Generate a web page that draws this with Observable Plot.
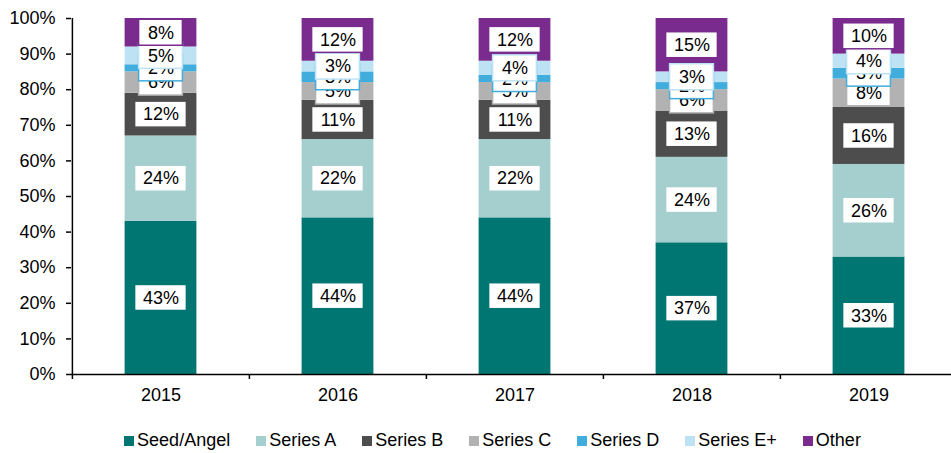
<!DOCTYPE html>
<html>
<head>
<meta charset="utf-8">
<script src="https://cdn.jsdelivr.net/npm/d3@7"></script>
<script src="https://cdn.jsdelivr.net/npm/@observablehq/plot@0.6"></script>
<style>
  html, body { margin: 0; padding: 0; background: #fff; overflow: hidden; }
  body { width: 951px; height: 453px; font-family: Arial, "Liberation Sans", sans-serif; }
  #legend { display: flex; justify-content: center; align-items: center; margin-top: 20px; margin-left: 34px; font-size: 18px; color: #000; }
  #legend .item { display: flex; align-items: center; margin: 0 13px; }
  #legend .sw { width: 10px; height: 10px; margin-right: 3px; }
</style>
</head>
<body>
<div id="chart"></div>
<div id="legend"></div>
<script>
const years = ["2015", "2016", "2017", "2018", "2019"];
const seriesNames = ["Seed/Angel", "Series A", "Series B", "Series C", "Series D", "Series E+", "Other"];
const seedAngel = [43, 44, 44, 37, 33];
const seriesA   = [24, 22, 22, 24, 26];
const seriesB   = [12, 11, 11, 13, 16];
const seriesC   = [6, 5, 5, 6, 8];
const seriesD   = [2, 3, 2, 2, 3];
const seriesE   = [5, 3, 4, 3, 4];
const other     = [8, 12, 12, 15, 10];
const yTicks = [0, 10, 20, 30, 40, 50, 60, 70, 80, 90, 100];
const colors = ["#007672", "#A5CFCE", "#4D4D4D", "#B2B2B2", "#41ADDD", "#BDE2F3", "#7A2B8E"];

const valuesBySeries = [seedAngel, seriesA, seriesB, seriesC, seriesD, seriesE, other];

// build stacked table
const rows = [];
years.forEach((year, yi) => {
  let acc = 0;
  valuesBySeries.forEach((vals, si) => {
    const v = vals[yi];
    rows.push({year, series: seriesNames[si], value: v, y1: acc, y2: acc + v, mid: acc + v / 2, label: v + "%"});
    acc += v;
  });
});

const W = 951, H = 410;
const mL = 71, mR = -6, mT = 18, mB = 36;
const step = (W - mR - mL) / years.length;
const barW = 72;
const barInset = (step - barW) / 2;
const boxH = 26;
const boxInset = (w) => (step - w) / 2;
const FONT = "Arial, 'Liberation Sans', sans-serif";

const labelMarks = seriesNames.flatMap((s) => {
  const d = rows.filter(r => r.series === s);
  const c = colors[seriesNames.indexOf(s)];
  const short = d.filter(r => r.label.length <= 2);
  const long = d.filter(r => r.label.length > 2);
  return [
    Plot.barY(short, {x: "year", y1: "mid", y2: "mid", fill: "white", stroke: c, strokeWidth: 1.5,
      insetLeft: boxInset(44), insetRight: boxInset(44), insetTop: -boxH / 2, insetBottom: -boxH / 2}),
    Plot.barY(long, {x: "year", y1: "mid", y2: "mid", fill: "white", stroke: c, strokeWidth: 1.5,
      insetLeft: boxInset(52), insetRight: boxInset(52), insetTop: -boxH / 2, insetBottom: -boxH / 2}),
    Plot.text(d, {x: "year", y: "mid", text: "label", fill: "black", fontSize: 18, fontFamily: FONT})
  ];
});

const chart = Plot.plot({
  width: W,
  height: H,
  marginLeft: mL,
  marginRight: mR,
  marginTop: mT,
  marginBottom: mB,
  style: {fontFamily: FONT, fontSize: "18px", color: "black", background: "white", overflow: "visible"},
  x: {domain: years, padding: 0, label: null},
  y: {domain: [0, 100], label: null},
  color: {domain: seriesNames, range: colors},
  marks: [
    Plot.barY(rows, {x: "year", y1: "y1", y2: "y2", fill: "series", insetLeft: barInset, insetRight: barInset}),
    ...labelMarks,
    Plot.axisY({ticks: yTicks, tickFormat: d => d + "%", tickSize: 5, tickPadding: 11, strokeWidth: 1.5, fontSize: 18}),
    Plot.axisX({tickSize: 0, tickPadding: 14, fontSize: 18}),
    Plot.ruleX(years, {x: d => d, dx: -step / 2, y1: 0, y2: -1.4, stroke: "black", strokeWidth: 1.5}),
    Plot.ruleY([0], {stroke: "black", strokeWidth: 1.5}),
    Plot.ruleX([years[0]], {x: d => d, dx: -step / 2, y1: 0, y2: 100, stroke: "black", strokeWidth: 1.5})
  ]
});
document.getElementById("chart").appendChild(chart);

const legend = document.getElementById("legend");
seriesNames.forEach((s, i) => {
  const item = document.createElement("div");
  item.className = "item";
  const sw = document.createElement("span");
  sw.className = "sw";
  sw.style.background = colors[i];
  const t = document.createElement("span");
  t.textContent = s;
  item.appendChild(sw);
  item.appendChild(t);
  legend.appendChild(item);
});
</script>
</body>
</html>
